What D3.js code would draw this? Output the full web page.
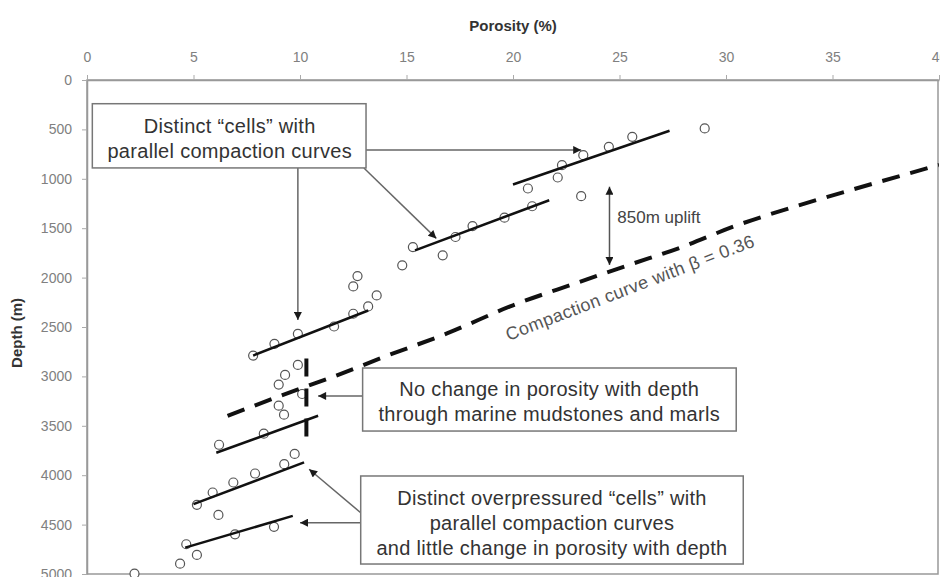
<!DOCTYPE html>
<html>
<head>
<meta charset="utf-8">
<script src="https://cdnjs.cloudflare.com/ajax/libs/d3/7.8.5/d3.min.js"></script>
<style>
  body { margin: 0; background: #fff; }
  svg { font-family: "Liberation Sans", Arial, sans-serif; }
</style>
</head>
<body>
<svg id="chart" width="940" height="577"></svg>
<script>
const porosityTicks = [0, 5, 10, 15, 20, 25, 30, 35, 40];
const depthTicks = [0, 500, 1000, 1500, 2000, 2500, 3000, 3500, 4000, 4500, 5000];

// measured samples (porosity %, depth m)
const samplePorosity = [
  29.0, 25.6, 24.5, 23.3, 22.3, 22.1, 20.7, 23.2,
  20.9, 19.6, 18.1, 17.3, 15.3, 16.7, 14.8,
  12.7, 12.5, 13.6, 13.2, 12.5, 11.6, 9.9, 8.8, 7.8,
  9.9, 9.3, 9.0, 10.1, 9.0, 9.25,
  6.2, 8.3, 9.75, 9.26,
  7.89, 6.87, 5.9, 5.16,
  6.17, 8.78, 6.95, 4.66, 5.16, 4.37, 2.23
];
const sampleDepth = [
  490, 575, 676, 761, 862, 987, 1098, 1176,
  1278, 1393, 1478, 1589, 1691, 1775, 1876,
  1985, 2089, 2180, 2292, 2366, 2495, 2569, 2670, 2789,
  2884, 2985, 3083, 3178, 3296, 3387,
  3692, 3580, 3785, 3888,
  3983, 4074, 4175, 4300,
  4402, 4523, 4598, 4699, 4807, 4895, 4997
];

// parallel compaction lines of each cell: [start, end]
const cellPorosity = [[20.0, 27.35], [15.4, 21.7], [7.8, 13.2], [6.07, 10.85], [5.0, 10.19], [4.61, 9.66]];
const cellDepth = [[1058, 514], [1724, 1217], [2789, 2333], [3773, 3398], [4293, 3871], [4733, 4412]];

// compaction curve with beta = 0.36
const curvePorosity = [6.6, 9.1, 11.6, 14.1, 16.9, 20.0, 22.9, 25.4, 28.0, 30.4, 33.4, 36.0, 38.6, 40.0];
const curveDepth = [3400, 3195, 3000, 2790, 2565, 2280, 2060, 1875, 1685, 1480, 1270, 1105, 945, 860];

// no change through marine mudstones
const mudstonePorosity = 10.3;
const mudstoneDepth = [2820, 3670];

const svg = d3.select("#chart");
const width = 940, height = 577;
const margin = { top: 80, right: 1, bottom: 3, left: 87 };

const x = d3.scaleLinear().domain([0, 40]).range([margin.left, width - margin.right]);
const y = d3.scaleLinear().domain([0, 5000]).range([margin.top, height - margin.bottom]);

svg.append("defs").append("clipPath").attr("id", "plot")
  .append("rect")
  .attr("x", x(0)).attr("y", y(0))
  .attr("width", x(40) - x(0)).attr("height", y(5000) - y(0));

svg.select("defs").append("marker")
  .attr("id", "head")
  .attr("viewBox", "0 0 10 10")
  .attr("refX", 10).attr("refY", 5)
  .attr("markerWidth", 11).attr("markerHeight", 8)
  .attr("markerUnits", "userSpaceOnUse")
  .attr("orient", "auto-start-reverse")
  .append("path").attr("d", "M0,0L10,5L0,10z").attr("fill", "#1a1a1a");

// frame + axes
svg.append("rect")
  .attr("x", x(0)).attr("y", y(0))
  .attr("width", x(40) - x(0) - 1).attr("height", y(5000) - y(0))
  .attr("fill", "none").attr("stroke", "#999").attr("stroke-width", 1.5);

const topAxis = svg.append("g")
  .attr("transform", `translate(0,${y(0)})`)
  .call(d3.axisTop(x).tickValues(porosityTicks).tickSize(5).tickSizeOuter(0).tickPadding(13));

const leftAxis = svg.append("g")
  .attr("transform", `translate(${x(0)},0)`)
  .call(d3.axisLeft(y).tickValues(depthTicks).tickFormat(d3.format("d"))
    .tickSize(5).tickSizeOuter(0).tickPadding(10));

[topAxis, leftAxis].forEach(g => {
  g.select(".domain").attr("stroke", "#999").attr("stroke-width", 1.5);
  g.selectAll(".tick line").attr("stroke", "#aaa");
  g.selectAll(".tick text")
    .attr("fill", "#808080")
    .style("font-size", "14px");
});

svg.append("text")
  .attr("x", (x(0) + x(40)) / 2).attr("y", 31)
  .attr("text-anchor", "middle")
  .style("font-size", "15px").style("font-weight", "bold")
  .attr("fill", "#333")
  .text("Porosity (%)");

svg.append("text")
  .attr("transform", `translate(22,${y(2560)}) rotate(-90)`)
  .attr("text-anchor", "middle")
  .style("font-size", "15px").style("font-weight", "bold")
  .attr("fill", "#333")
  .text("Depth (m)");

// samples
svg.append("g")
  .selectAll("circle")
  .data(samplePorosity.map((p, i) => [p, sampleDepth[i]]))
  .enter()
  .append("circle")
  .attr("cx", d => x(d[0]))
  .attr("cy", d => y(d[1]))
  .attr("r", 4.5)
  .attr("fill", "#fff")
  .attr("stroke", "#555")
  .attr("stroke-width", 1.2);

// cell compaction lines
svg.append("g")
  .selectAll("line")
  .data(cellPorosity.map((p, i) => [p, cellDepth[i]]))
  .enter()
  .append("line")
  .attr("x1", d => x(d[0][0])).attr("y1", d => y(d[1][0]))
  .attr("x2", d => x(d[0][1])).attr("y2", d => y(d[1][1]))
  .attr("stroke", "#111")
  .attr("stroke-width", 2.5);

// compaction curve
const curveLine = d3.line()
  .x(d => x(d[0]))
  .y(d => y(d[1]))
  .curve(d3.curveMonotoneX);

svg.append("path")
  .datum(curvePorosity.map((p, i) => [p, curveDepth[i]]))
  .attr("clip-path", "url(#plot)")
  .attr("d", curveLine)
  .attr("fill", "none")
  .attr("stroke", "#111")
  .attr("stroke-width", 4)
  .attr("stroke-dasharray", "18,11");

svg.append("line")
  .attr("x1", x(mudstonePorosity)).attr("y1", y(mudstoneDepth[0]))
  .attr("x2", x(mudstonePorosity)).attr("y2", y(mudstoneDepth[1]))
  .attr("stroke", "#111")
  .attr("stroke-width", 4)
  .attr("stroke-dasharray", "18,12");

svg.append("text")
  .attr("transform", `translate(${x(25.6)},${y(2160)}) rotate(-21)`)
  .attr("text-anchor", "middle")
  .style("font-size", "18px")
  .style("letter-spacing", "0.4px")
  .attr("fill", "#555")
  .text("Compaction curve with \u03b2 = 0.36");

// uplift arrow
svg.append("line")
  .attr("x1", x(24.53)).attr("y1", y(1080))
  .attr("x2", x(24.53)).attr("y2", y(1872))
  .attr("stroke", "#555").attr("stroke-width", 1.5)
  .attr("marker-start", "url(#head)")
  .attr("marker-end", "url(#head)");

svg.append("text")
  .attr("x", x(24.9)).attr("y", y(1450))
  .style("font-size", "17px")
  .attr("fill", "#444")
  .text("850m uplift");

// annotation boxes
const notes = [
  { box: [0.25, 13.1, 240, 890], cx: 6.7, lines: ["Distinct \u201ccells\u201d with", "parallel compaction curves"], first: 465, step: 250 },
  { box: [12.94, 30.48, 2915, 3553], cx: 21.7, lines: ["No change in porosity with depth", "through marine mudstones and marls"], first: 3130, step: 253 },
  { box: [12.85, 30.81, 4008, 4899], cx: 21.83, lines: ["Distinct overpressured \u201ccells\u201d with", "parallel compaction curves", "and little change in porosity with depth"], first: 4235, step: 250 }
];

const arrows = [
  [13.1, 708, 23.2, 708],
  [13.0, 890, 16.4, 1603],
  [9.9, 890, 9.9, 2430],
  [12.94, 3198, 10.85, 3198],
  [12.85, 4481, 10.0, 4481],
  [12.85, 4380, 10.43, 3940]
];

svg.append("g")
  .selectAll("line")
  .data(arrows)
  .enter()
  .append("line")
  .attr("x1", d => x(d[0])).attr("y1", d => y(d[1]))
  .attr("x2", d => x(d[2])).attr("y2", d => y(d[3]))
  .attr("stroke", "#666")
  .attr("stroke-width", 1.5)
  .attr("marker-end", "url(#head)");

const noteG = svg.append("g")
  .selectAll("g")
  .data(notes)
  .enter()
  .append("g");

noteG.append("rect")
  .attr("x", d => x(d.box[0]))
  .attr("y", d => y(d.box[2]))
  .attr("width", d => x(d.box[1]) - x(d.box[0]))
  .attr("height", d => y(d.box[3]) - y(d.box[2]))
  .attr("fill", "#fff")
  .attr("stroke", "#777")
  .attr("stroke-width", 1.5);

noteG.each(function (d) {
  d3.select(this).selectAll("text")
    .data(d.lines)
    .enter()
    .append("text")
    .attr("x", x(d.cx))
    .attr("y", (t, i) => y(d.first + i * d.step) + 7)
    .attr("text-anchor", "middle")
    .style("font-size", "20px")
    .style("letter-spacing", "0.3px")
    .attr("fill", "#333")
    .text(t => t);
});
</script>
</body>
</html>
